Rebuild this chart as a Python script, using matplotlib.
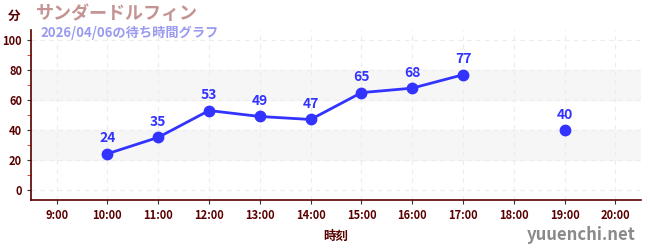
import numpy as np
import matplotlib.pyplot as plt

plt.rcParams['font.family'] = ['Noto Sans CJK JP', 'DejaVu Sans']

# データ
hours = [9, 10, 11, 12, 13, 14, 15, 16, 17, 18, 19, 20]
hour_labels = ["9:00", "10:00", "11:00", "12:00", "13:00", "14:00",
               "15:00", "16:00", "17:00", "18:00", "19:00", "20:00"]
wait_hours = [10, 11, 12, 13, 14, 15, 16, 17, 18, 19]
wait_mins = [24, 35, 53, 49, 47, 65, 68, 77, np.nan, 40]

title = "サンダードルフィン"
subtitle = "2026/04/06の待ち時間グラフ"

axis_col = "#5a0000"
line_col = "#3333ff"

fig = plt.figure(figsize=(6.5, 2.5), dpi=100)
ax = fig.add_axes([0.048, 0.2, 0.938, 0.68])

ax.set_xlim(8.5, 20.5)
ax.set_ylim(-7, 107)

# 背景の帯
for lo, hi in [(20, 40), (60, 80)]:
    ax.axhspan(lo, hi, color="#f6f6f6", zorder=0)

ax.grid(True, ls=(0, (4, 4)), color="#ececec", lw=0.8, zorder=0.5)

ax.plot(wait_hours, wait_mins, color=line_col, lw=2.0, marker="o",
        ms=7.5, zorder=3)
for h, m in zip(wait_hours, wait_mins):
    if not np.isnan(m):
        ax.annotate(f"{m:.0f}", (h, m), xytext=(0, 6), textcoords="offset points",
                    ha="center", va="bottom", color=line_col,
                    fontsize=10, fontweight="bold")

ax.set_xticks(hours)
ax.set_xticklabels(hour_labels)
ax.set_yticks([0, 20, 40, 60, 80, 100])
ax.set_yticks([10, 30, 50, 70, 90], minor=True)
ax.tick_params(axis="both", labelsize=8, labelcolor=axis_col, length=3, color="#333333")
ax.tick_params(axis="y", which="minor", length=3, color="#dd2222")
for lab in ax.get_xticklabels() + ax.get_yticklabels():
    lab.set_fontweight("bold")

for s in ["top", "right"]:
    ax.spines[s].set_visible(False)
for s in ["left", "bottom"]:
    ax.spines[s].set_color(axis_col)
    ax.spines[s].set_linewidth(1.2)

ax.set_xlabel("時刻", fontsize=9, fontweight="bold", color=axis_col, labelpad=6)

fig.text(0.022, 0.935, "分", fontsize=9, fontweight="bold", color=axis_col,
         ha="center", va="center")
fig.text(0.055, 0.945, title, fontsize=13, fontweight="bold", color="#c49494",
         va="center")
fig.text(0.062, 0.87, subtitle, fontsize=9.5, fontweight="bold", color="#9a9af0",
         va="center")
fig.text(0.978, 0.06, "yuuenchi.net", fontsize=12, fontweight="bold", color="#8a8a8a",
         ha="right", va="center")

fig.savefig("out.png", dpi=100)
